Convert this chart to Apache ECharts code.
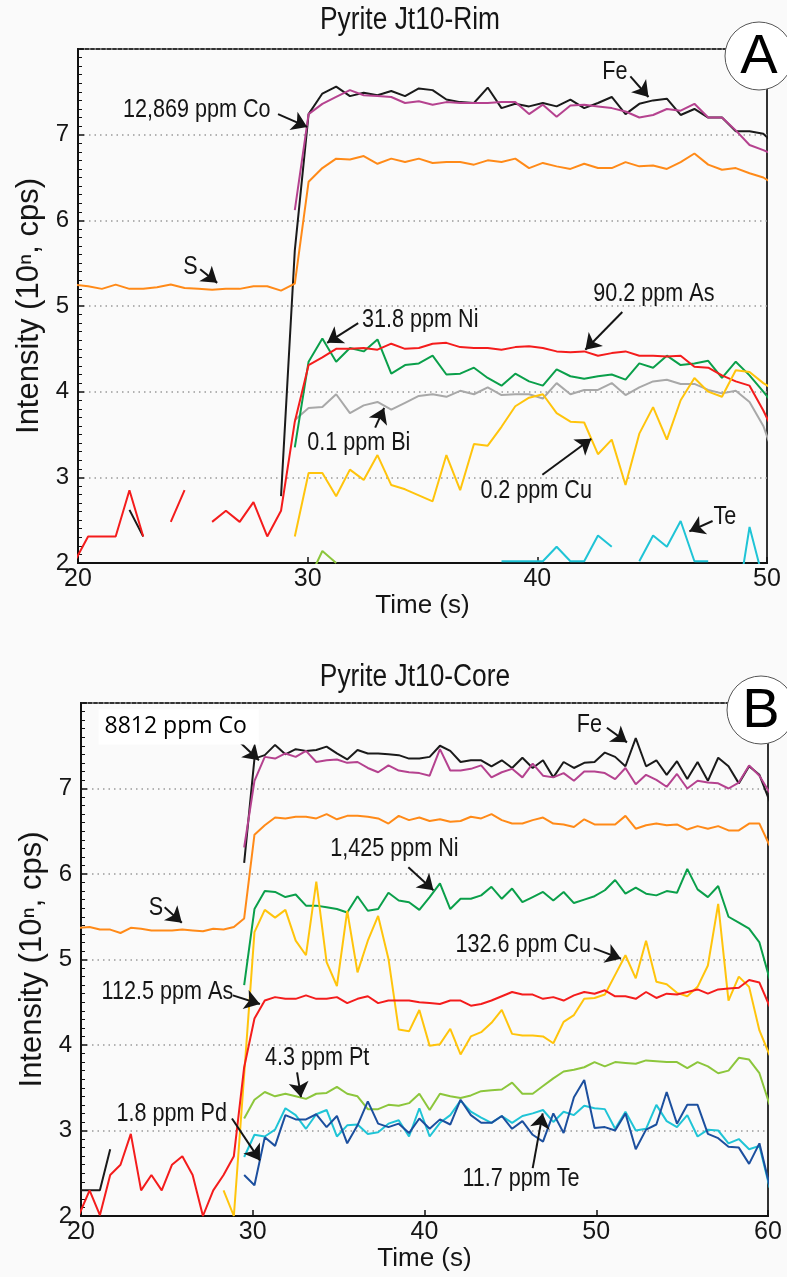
<!DOCTYPE html>
<html><head><meta charset="utf-8">
<script src="https://cdn.jsdelivr.net/npm/echarts@6/dist/echarts.min.js"></script>
<style>html,body{margin:0;padding:0;background:#fafafa}#c{width:787px;height:1277px}</style>
</head><body><div id="c"></div>
<script>
// ---------------- DATA ----------------
// Panel A : Pyrite Jt10-Rim (time, s)
const timeRim = [19.84,20.44,21.04,21.64,22.24,22.84,23.44,24.04,24.64,25.24,25.84,26.44,27.04,27.64,28.24,28.84,29.44,30.04,30.64,31.24,31.84,32.44,33.04,33.64,34.24,34.84,35.44,36.04,36.64,37.24,37.84,38.44,39.04,39.64,40.24,40.84,41.44,42.04,42.64,43.24,43.84,44.44,45.04,45.64,46.24,46.84,47.44,48.04,48.64,49.24,49.84,50.44];
const rimFe = [null,null,null,null,2.62,2.31,null,null,null,null,null,null,null,null,null,2.78,5.65,7.24,7.48,7.56,7.45,7.49,7.46,7.51,7.45,7.54,7.52,7.41,7.38,7.37,7.55,7.31,7.36,7.33,7.37,7.33,7.41,7.31,7.37,7.44,7.24,7.36,7.40,7.42,7.23,7.30,7.20,7.20,7.04,7.04,7.01,6.86];
const rimCo = [null,null,null,null,null,null,null,null,null,null,null,null,null,null,null,null,6.12,7.24,7.36,7.44,7.52,7.46,7.45,7.44,7.37,7.39,7.35,7.38,7.37,7.37,7.37,7.38,7.38,7.24,7.35,7.21,7.34,7.35,7.33,7.31,7.27,7.20,7.23,7.30,7.28,7.36,7.20,7.20,7.05,6.88,6.82,6.75];
const rimS = [5.25,5.23,5.20,5.25,5.20,5.20,5.22,5.25,5.21,5.20,5.19,5.20,5.20,5.23,5.23,5.18,5.26,6.45,6.61,6.72,6.71,6.75,6.66,6.72,6.68,6.72,6.67,6.68,6.68,6.65,6.70,6.68,6.72,6.61,6.67,6.63,6.60,6.66,6.61,6.61,6.68,6.63,6.64,6.60,6.68,6.78,6.65,6.59,6.61,6.55,6.50,6.40];
const rimAs = [2.01,2.31,2.31,2.31,2.85,2.31,null,2.48,2.85,null,2.48,2.61,2.48,2.71,2.31,2.61,3.65,4.31,4.40,4.50,4.50,4.51,4.49,4.56,4.50,4.51,4.56,4.57,4.52,4.51,4.51,4.49,4.52,4.53,4.51,4.47,4.46,4.47,4.42,4.45,4.47,4.42,4.42,4.41,4.42,4.29,4.28,4.19,4.12,4.07,3.78,3.45];
const rimNi = [null,null,null,null,null,null,null,null,null,null,null,null,null,null,null,null,3.35,4.35,4.62,4.35,4.51,4.47,4.61,4.21,4.31,4.33,4.42,4.20,4.21,4.28,4.16,4.07,4.21,4.12,4.07,4.26,4.18,4.15,4.18,4.20,4.14,4.33,4.28,4.42,4.31,4.33,4.36,4.16,4.35,4.19,4.00,3.80];
const rimBi = [null,null,null,null,null,null,null,null,null,null,null,null,null,null,null,null,3.67,3.81,3.82,3.97,3.75,3.84,3.88,3.79,3.87,3.95,3.97,3.94,4.01,3.97,4.05,3.96,3.97,3.97,3.92,4.10,3.97,4.02,4.02,4.10,3.96,4.05,4.12,4.14,4.09,4.09,4.02,3.98,4.01,3.88,3.60,3.15];
const rimCu = [null,null,null,null,null,null,null,null,null,null,null,null,null,null,null,null,2.31,3.05,3.05,2.78,3.09,2.97,3.26,2.91,2.86,2.79,2.72,3.26,2.85,3.39,3.37,3.59,3.83,3.93,3.97,3.75,3.65,3.64,3.27,3.44,2.91,3.51,3.82,3.44,3.90,4.16,4.00,3.94,4.25,4.23,4.10,4.00];
const rimTe = [null,null,null,null,null,null,null,null,null,null,null,null,null,null,null,null,null,null,null,null,null,null,null,null,null,null,null,null,null,null,null,2.02,2.02,2.02,2.02,2.19,2.02,2.02,2.32,2.19,null,2.02,2.32,2.19,2.49,2.02,2.02,null,1.41,2.42,1.80,null];
const rimPt = [null,null,null,null,null,null,null,null,null,null,null,null,null,null,null,null,null,1.80,2.14,2.00,null,null,null,null,null,null,null,null,null,null,null,null,null,null,null,null,null,null,null,null,null,null,null,null,null,null,null,null,null,null,null,null];

// Panel B : Pyrite Jt10-Core (time, s)
const timeCore = [19.9,20.5,21.1,21.7,22.3,22.9,23.5,24.1,24.7,25.3,25.9,26.5,27.1,27.7,28.3,28.9,29.5,30.1,30.7,31.3,31.9,32.5,33.1,33.7,34.3,34.9,35.5,36.1,36.7,37.3,37.9,38.5,39.1,39.7,40.3,40.9,41.5,42.1,42.7,43.3,43.9,44.5,45.1,45.7,46.3,46.9,47.5,48.1,48.7,49.3,49.9,50.5,51.1,51.7,52.3,52.9,53.5,54.1,54.7,55.3,55.9,56.5,57.1,57.7,58.3,58.9,59.5,60.1];
const coreFe = [2.30,2.30,2.30,2.78,null,null,null,null,null,null,null,null,null,null,null,null,6.13,7.35,7.39,7.51,7.40,7.46,7.44,7.45,7.49,7.41,7.34,7.45,7.41,7.41,7.40,7.39,7.35,7.35,7.37,7.50,7.44,7.31,7.33,7.33,7.26,7.33,7.24,7.36,7.24,7.33,7.13,7.31,7.24,7.30,7.31,7.42,7.37,7.26,7.59,7.26,7.33,7.16,7.32,7.11,7.31,7.09,7.36,7.26,7.06,7.26,7.16,6.85];
const coreCo = [null,null,null,null,null,null,null,null,null,null,null,null,null,null,null,null,6.31,7.09,7.37,7.35,7.41,7.37,7.44,7.31,7.33,7.34,7.30,7.31,7.24,7.19,7.27,7.21,7.19,7.18,7.15,7.46,7.21,7.21,7.23,7.27,7.13,7.19,7.23,7.13,7.29,7.15,7.13,7.18,7.09,7.20,7.20,7.18,7.11,7.24,7.05,7.16,7.10,7.02,7.17,7.00,7.09,7.07,7.06,7.00,7.07,7.27,7.15,6.95];
const coreS = [5.37,5.38,5.35,5.35,5.31,5.37,5.36,5.34,5.34,5.34,5.35,5.34,5.33,5.36,5.35,5.38,5.48,6.46,6.57,6.66,6.65,6.67,6.67,6.65,6.70,6.64,6.68,6.68,6.67,6.65,6.59,6.68,6.63,6.66,6.62,6.64,6.61,6.62,6.67,6.65,6.70,6.63,6.59,6.59,6.63,6.66,6.59,6.58,6.55,6.64,6.58,6.58,6.58,6.68,6.53,6.57,6.59,6.57,6.58,6.52,6.56,6.53,6.56,6.51,6.51,6.59,6.59,6.33];
const coreNi = [null,null,null,null,null,null,null,null,null,null,null,null,null,null,null,null,4.70,5.59,5.80,5.79,5.73,5.76,5.63,5.63,5.61,5.59,5.55,5.74,5.57,5.59,5.78,5.69,5.67,5.58,5.73,5.89,5.59,5.71,5.71,5.75,5.85,5.71,5.83,5.67,5.73,5.79,5.69,5.79,5.66,5.70,5.74,5.81,5.93,5.77,5.84,5.77,5.75,5.80,5.78,6.06,5.82,5.73,5.86,5.50,5.43,5.36,5.20,4.77];
const coreCu = [null,null,null,null,null,null,null,null,null,null,null,null,null,null,2.30,2.00,3.65,5.32,5.58,5.49,5.58,5.22,5.05,5.91,4.97,4.69,5.57,4.85,5.22,5.51,5.01,4.18,4.16,4.41,3.99,4.01,4.19,3.89,4.10,4.15,4.26,4.41,4.13,4.11,4.11,4.10,4.02,4.27,4.35,4.54,4.55,4.59,4.82,5.05,4.78,5.22,4.74,4.71,4.61,4.57,4.68,4.93,5.65,4.52,4.80,4.68,4.17,3.88];
const coreAs = [2.02,2.30,2.01,2.48,2.60,2.96,2.30,2.48,2.30,2.60,2.70,2.48,2.00,2.30,2.48,2.70,3.74,4.31,4.52,4.56,4.54,4.54,4.58,4.54,4.54,4.56,4.49,4.54,4.57,4.49,4.52,4.52,4.52,4.50,4.49,4.48,4.52,4.52,4.46,4.48,4.52,4.57,4.62,4.59,4.59,4.54,4.56,4.52,4.58,4.62,4.60,4.64,4.57,4.57,4.54,4.62,4.55,4.60,4.59,4.62,4.65,4.60,4.65,4.66,4.67,4.76,4.73,4.45];
const corePt = [null,null,null,null,null,null,null,null,null,null,null,null,null,null,null,null,3.14,3.36,3.45,3.40,3.43,3.40,3.37,3.43,3.44,3.51,3.43,3.40,3.25,3.25,3.30,3.29,3.32,3.43,3.24,3.43,3.40,3.38,3.41,3.46,3.47,3.48,3.56,3.43,3.43,3.52,3.61,3.69,3.71,3.74,3.80,3.75,3.80,3.79,3.78,3.82,3.81,3.80,3.80,3.73,3.80,3.75,3.67,3.70,3.85,3.83,3.67,3.30];
const corePd = [null,null,null,null,null,null,null,null,null,null,null,null,null,null,null,null,2.48,2.36,2.92,2.82,3.18,3.13,3.13,3.19,3.04,3.17,2.85,3.06,3.34,3.08,3.04,3.08,2.97,3.14,3.02,3.13,3.07,3.36,3.18,3.09,3.09,3.17,3.02,3.11,2.95,2.87,3.20,2.97,3.39,3.59,3.03,3.04,3.00,3.20,2.78,3.01,3.07,3.45,3.08,3.30,3.30,2.96,2.91,2.81,2.80,2.61,2.85,2.35];
const coreTe = [null,null,null,null,null,null,null,null,null,null,null,null,null,null,null,null,2.69,2.95,2.93,3.01,3.26,3.18,3.02,3.19,3.24,2.93,3.06,3.07,2.96,2.98,3.08,3.12,2.93,3.26,2.93,3.09,3.18,3.35,3.22,3.15,3.09,3.17,3.09,3.17,3.20,3.24,3.10,3.22,3.18,3.29,3.26,3.25,3.02,3.22,3.00,3.02,3.30,3.11,3.04,3.18,2.93,3.01,3.00,2.85,2.90,2.78,2.82,2.33];

// Annotations (time, intensity) — label anchor (left, middle)
const rimLabels = [
  [21.96,7.29,'12,869 ppm Co'],[42.83,7.73,'Fe'],[24.58,5.46,'S'],[42.44,5.14,'90.2 ppm As'],
  [32.37,4.84,'31.8 ppm Ni'],[29.98,3.40,'0.1 ppm Bi'],[37.52,2.84,'0.2 ppm Cu'],[47.67,2.54,'Te']
];
const rimArrows = [
  [28.71,7.24,29.98,7.09],[44.05,7.68,44.84,7.44],[25.32,5.43,26.06,5.27],[43.70,4.93,42.09,4.49],
  [32.20,4.80,30.85,4.57],[32.94,3.58,33.33,3.81],[40.22,3.03,42.35,3.45],[47.63,2.49,46.62,2.37]
];
const coreLabels = [
  [48.87,7.74,'Fe'],[23.94,5.61,'S'],[34.51,6.29,'1,425 ppm Ni'],[41.80,5.17,'132.6 ppm Cu'],
  [21.20,4.62,'112.5 ppm As'],[30.71,3.85,'4.3 ppm Pt'],[22.07,3.20,'1.8 ppm Pd'],[42.21,2.44,'11.7 ppm Te']
];
const coreBoxLabel = [21.02,7.72,'8812 ppm Co'];
const coreArrows = [
  [29.25,7.54,30.36,7.33],[50.62,7.71,51.79,7.54],[24.87,5.61,25.87,5.43],[39.06,6.08,40.52,5.81],
  [49.86,5.13,51.44,5.01],[28.84,4.58,30.42,4.48],[32.58,3.68,32.81,3.39],[28.79,3.14,30.42,2.65],[46.30,2.56,46.88,3.20]
];

// ---------------- STYLE ----------------
const REG = '"Liberation Sans", Arial, sans-serif';
const INK = '#151515';
const NARROW_X = 0.83;   // horizontal squeeze emulating a condensed face

const COL = {Fe:'#1a1a1a', Co:'#b5428f', S:'#ff8a18', As:'#f41c1c', Ni:'#0a9f4a', Bi:'#a8a8a8',
             Cu:'#ffc40c', Te:'#1fc4d6', Pt:'#8cc63c', Pd:'#1c4f9e'};

function line(panel, name, time, vals, extra){
  return Object.assign({
    type:'line', name, xAxisIndex:panel, yAxisIndex:panel,
    data: time.map((t,i)=>[t, vals[i]==null ? '-' : vals[i]]),
    showSymbol:false, symbol:'none', silent:true, animation:false, clip:true,
    lineStyle:{color:COL[name], width:2}, itemStyle:{color:COL[name]}
  }, extra||{});
}
function arrows(list){
  return {silent:true, symbol:['none','arrow'], symbolSize:15, animation:false,
    label:{show:false}, lineStyle:{color:INK, width:2, type:'solid'},
    itemStyle:{color:INK},
    emphasis:{disabled:true},
    data: list.map(a=>[{coord:[a[0],a[1]]},{coord:[a[2],a[3]]}])};
}
function xAx(gi, max, gap){
  return {type:'value', gridIndex:gi, min:20, max:max, interval:10,
    name:'Time (s)', nameLocation:'middle', nameGap:gap,
    nameTextStyle:{fontFamily:REG, fontSize:26, color:INK},
    axisLine:{lineStyle:{color:'#111', width:2}},
    axisTick:{inside:true, length:6, lineStyle:{color:'#111', width:1.5}},
    axisLabel:{fontFamily:REG, fontSize:25, color:INK, margin:4},
    splitLine:{show:false}};
}
function yAx(gi){
  return {type:'value', gridIndex:gi, min:2, max:8, interval:1,
    name:'Intensity (10\u207F, cps)', nameLocation:'middle', nameGap:27,
    nameTextStyle:{fontFamily:REG, fontSize:31, color:INK},
    axisLine:{lineStyle:{color:'#111', width:2}},
    axisTick:{inside:true, length:6, lineStyle:{color:'#111', width:1.5}},
    minorTick:{show:true, splitNumber:10, length:4, lineStyle:{color:'#111', width:1}},
    axisLabel:{fontFamily:REG, fontSize:24, color:INK, margin:9, showMaxLabel:false},
    splitLine:{show:true, lineStyle:{color:'#9a9a9a', width:1.5, type:[1.5,4]}}};
}

const option = {
  backgroundColor:'#fafafa',
  animation:false,
  grid:[
    {left:78, top:49, width:689, height:514, show:true, borderColor:'#333', borderWidth:2, backgroundColor:'rgba(0,0,0,0)'},
    {left:81, top:703, width:687, height:513, show:true, borderColor:'#333', borderWidth:2, backgroundColor:'rgba(0,0,0,0)'}
  ],
  xAxis:[xAx(0,50,29), xAx(1,60,24)],
  yAxis:[yAx(0), yAx(1)],
  series:[
    line(0,'Fe',timeRim,rimFe,{markLine:arrows(rimArrows)}),
    line(0,'Co',timeRim,rimCo),
    line(0,'S',timeRim,rimS),
    line(0,'Bi',timeRim,rimBi),
    line(0,'Ni',timeRim,rimNi),
    line(0,'As',timeRim,rimAs),
    line(0,'Cu',timeRim,rimCu),
    line(0,'Te',timeRim,rimTe),
    line(0,'Pt',timeRim,rimPt),
    line(1,'Fe',timeCore,coreFe,{markLine:arrows(coreArrows)}),
    line(1,'Co',timeCore,coreCo),
    line(1,'S',timeCore,coreS),
    line(1,'Ni',timeCore,coreNi),
    line(1,'Cu',timeCore,coreCu),
    line(1,'As',timeCore,coreAs),
    line(1,'Pt',timeCore,corePt),
    line(1,'Te',timeCore,coreTe),
    line(1,'Pd',timeCore,corePd)
  ]
};
const chart = echarts.init(document.getElementById('c'), null, {renderer:'canvas'});
chart.setOption(option);

// Text annotations placed through the axes' own scales
const g = [];
function addLabels(panel, list){
  list.forEach(a=>{
    const p = chart.convertToPixel({gridIndex:panel}, [a[0], a[1]]);
    g.push({type:'text', x:p[0], y:p[1], scaleX:NARROW_X, z:50,
      style:{text:a[2], fontFamily:REG, fontSize:26, fill:INK, textVerticalAlign:'middle', textAlign:'left'}});
  });
}
addLabels(0, rimLabels);
addLabels(1, coreLabels);
{
  const p = chart.convertToPixel({gridIndex:1}, [coreBoxLabel[0], coreBoxLabel[1]]);
  g.push({type:'text', x:p[0], y:p[1], z:50,
    style:{text:coreBoxLabel[2], fontFamily:'"Open Sans", "Noto Sans", sans-serif', fontSize:23, fill:'#000',
      textVerticalAlign:'middle', textAlign:'left', backgroundColor:'#ffffff', padding:[6,12,6,6]}});
}
// titles
g.push({type:'text', x:410, y:5, scaleX:0.85, z:50, style:{text:'Pyrite Jt10-Rim', fontFamily:REG, fontSize:31, fill:INK, textAlign:'center', textVerticalAlign:'top'}});
g.push({type:'text', x:415, y:662, scaleX:0.85, z:50, style:{text:'Pyrite Jt10-Core', fontFamily:REG, fontSize:31, fill:INK, textAlign:'center', textVerticalAlign:'top'}});
// panel badges
[[759,56,'A'],[761,710,'B']].forEach(b=>{
  g.push({type:'circle', z:60, shape:{cx:b[0], cy:b[1], r:34}, style:{fill:'#ffffff', stroke:'#555', lineWidth:1}});
  g.push({type:'text', x:b[0], y:b[1]+2, z:61, style:{text:b[2], fontFamily:REG, fontSize:56, fill:'#000', textAlign:'center', textVerticalAlign:'middle'}});
});
chart.setOption({graphic:g});
</script></body></html>
